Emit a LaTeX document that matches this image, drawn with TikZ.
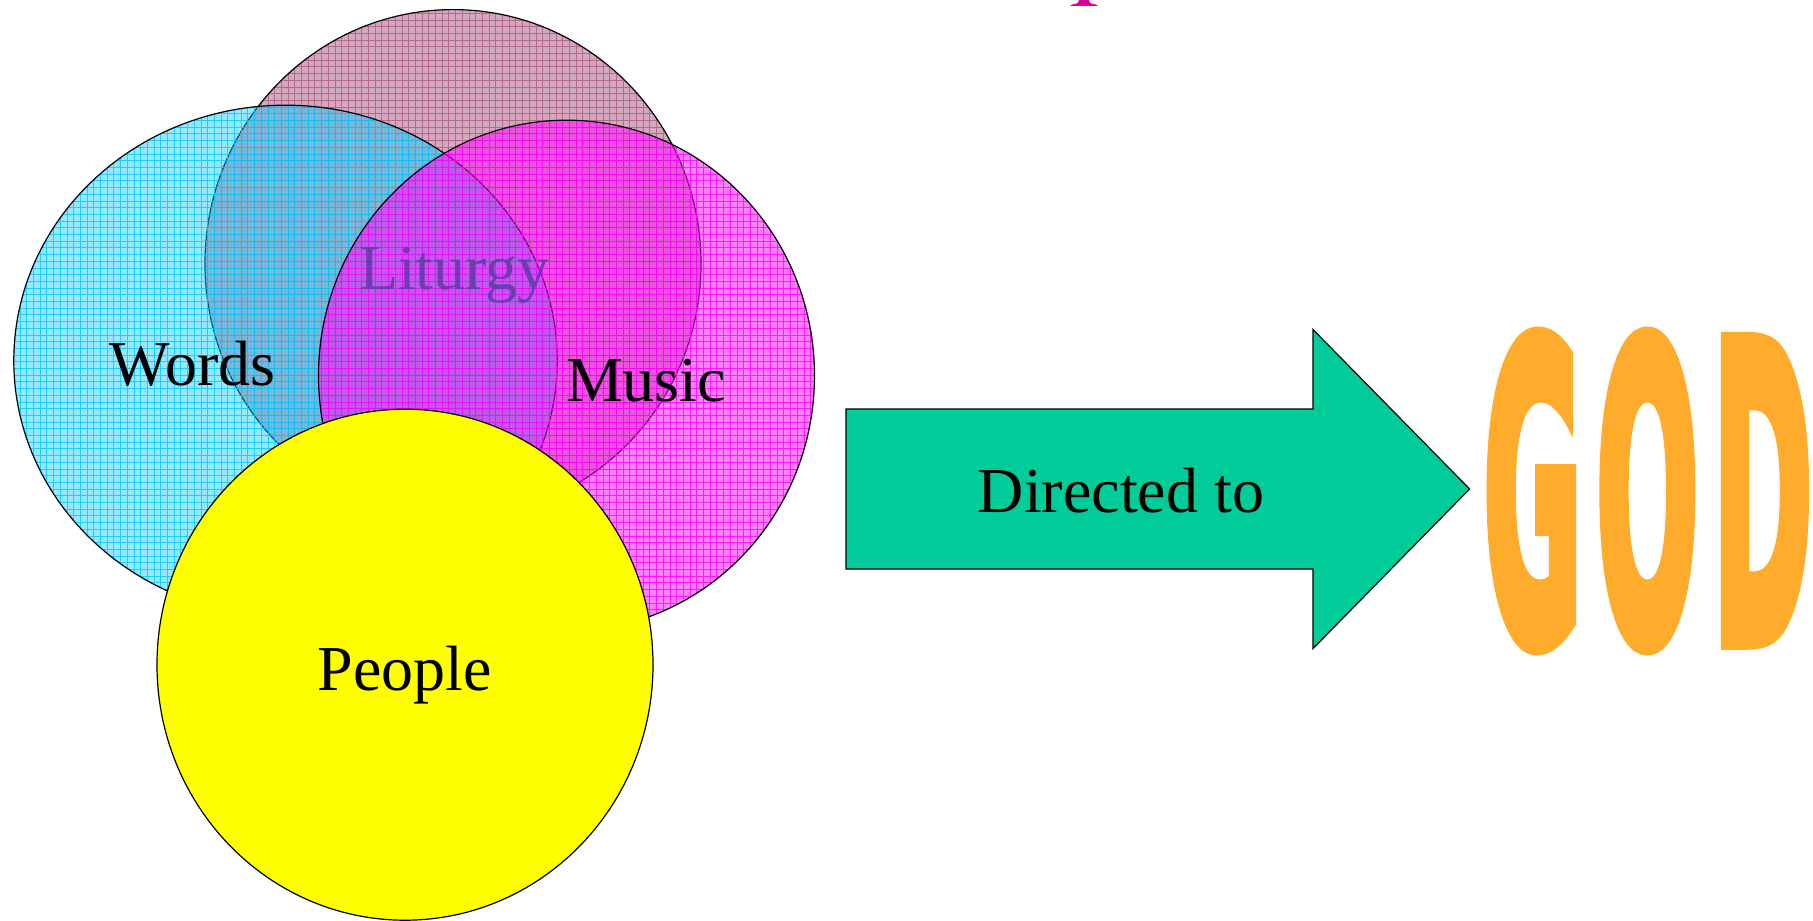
\documentclass[tikz,border=0pt]{standalone}
\usepackage{fontspec}
\setmainfont{Liberation Serif}
\newfontfamily\godfont{DejaVu Sans}[BoldFeatures={FakeBold=5,LetterSpace=12}]
\usepackage{tikz}

\definecolor{wordsblue}{RGB}{0,200,255}
\definecolor{liturgymauve}{RGB}{153,51,102}
\definecolor{musicpink}{RGB}{255,0,255}
\definecolor{peopleyellow}{RGB}{255,255,0}
\definecolor{arrowgreen}{RGB}{0,204,153}
\definecolor{titlepink}{RGB}{220,0,150}
\definecolor{liturgytext}{RGB}{100,60,170}
\definecolor{godorange}{RGB}{255,172,45}

\begin{document}
\begin{tikzpicture}[x=0.5pt,y=0.5pt,yscale=-1,xscale=1,
  ring/.style={draw=black, line width=0.6pt},
  gridlines/.style={line width=0.5pt, step=6.7},
  vennlabel/.style={anchor=base, inner sep=0pt, font=\fontsize{32}{38}\selectfont},
  godtext/.style={inner sep=0pt, xscale=1.0, yscale=3.4, font=\godfont\bfseries\fontsize{60}{60}\selectfont}]
\useasboundingbox (0,0) rectangle (1813,920);

%Shape: Ellipse (Liturgy)
\begin{scope}
\clip (453,263.6) ellipse (248 and 254);
\fill [liturgymauve, fill opacity=0.42] (453,263.6) ellipse (248 and 254);
\draw [gridlines, liturgymauve, draw opacity=0.55] (200,5) grid (705,520);
\end{scope}
\draw [ring] (453,263.6) ellipse (248 and 254);

%Shape: Ellipse (Words)
\begin{scope}
\clip (285.5,360.7) ellipse (271.7 and 255.5);
\fill [wordsblue, fill opacity=0.42] (285.5,360.7) ellipse (271.7 and 255.5);
\draw [gridlines, wordsblue, draw opacity=0.8] (10,100) grid (560,620);
\end{scope}
\draw [ring] (285.5,360.7) ellipse (271.7 and 255.5);

%Shape: Ellipse (Music)
\begin{scope}
\clip (566.5,375.7) ellipse (248 and 255.5);
\fill [musicpink, fill opacity=0.5] (566.5,375.7) ellipse (248 and 255.5);
\draw [gridlines, musicpink, draw opacity=0.8] (315,115) grid (818,635);
\end{scope}
\draw [ring] (566.5,375.7) ellipse (248 and 255.5);

% Text Node
\node [vennlabel, text=liturgytext, text opacity=0.9] (liturgy) at (454.5,289) {Liturgy};

%Shape: Ellipse (People)
\draw [ring, fill=peopleyellow] (405,664.7) ellipse (248 and 255.5);

% Text Node
\node [vennlabel] (words) at (192.5,385) {Words};
% Text Node
\node [vennlabel] (music) at (646,401) {Music};
% Text Node
\node [vennlabel] (people) at (404.6,690) {People};

%Shape: Right Arrow
\draw [ring, fill=arrowgreen] (846,409) -- (1313,409) -- (1313,329.5) -- (1469.6,489) -- (1313,648.6) -- (1313,569) -- (846,569) -- cycle;
% Text Node
\node [vennlabel] (directed) at (1121,512) {Directed to};

%Shape: foot of the title letter
\fill [titlepink] (1070,6) -- (1098,6) -- (1096,4.5) .. controls (1090,3.5) .. (1089,0) -- (1079,0) .. controls (1078,3.5) .. (1072,4.5) -- cycle;

% Text Node
\node [godtext, text=godorange] (god) at (1648,491) {GOD};

\end{tikzpicture}
\end{document}
